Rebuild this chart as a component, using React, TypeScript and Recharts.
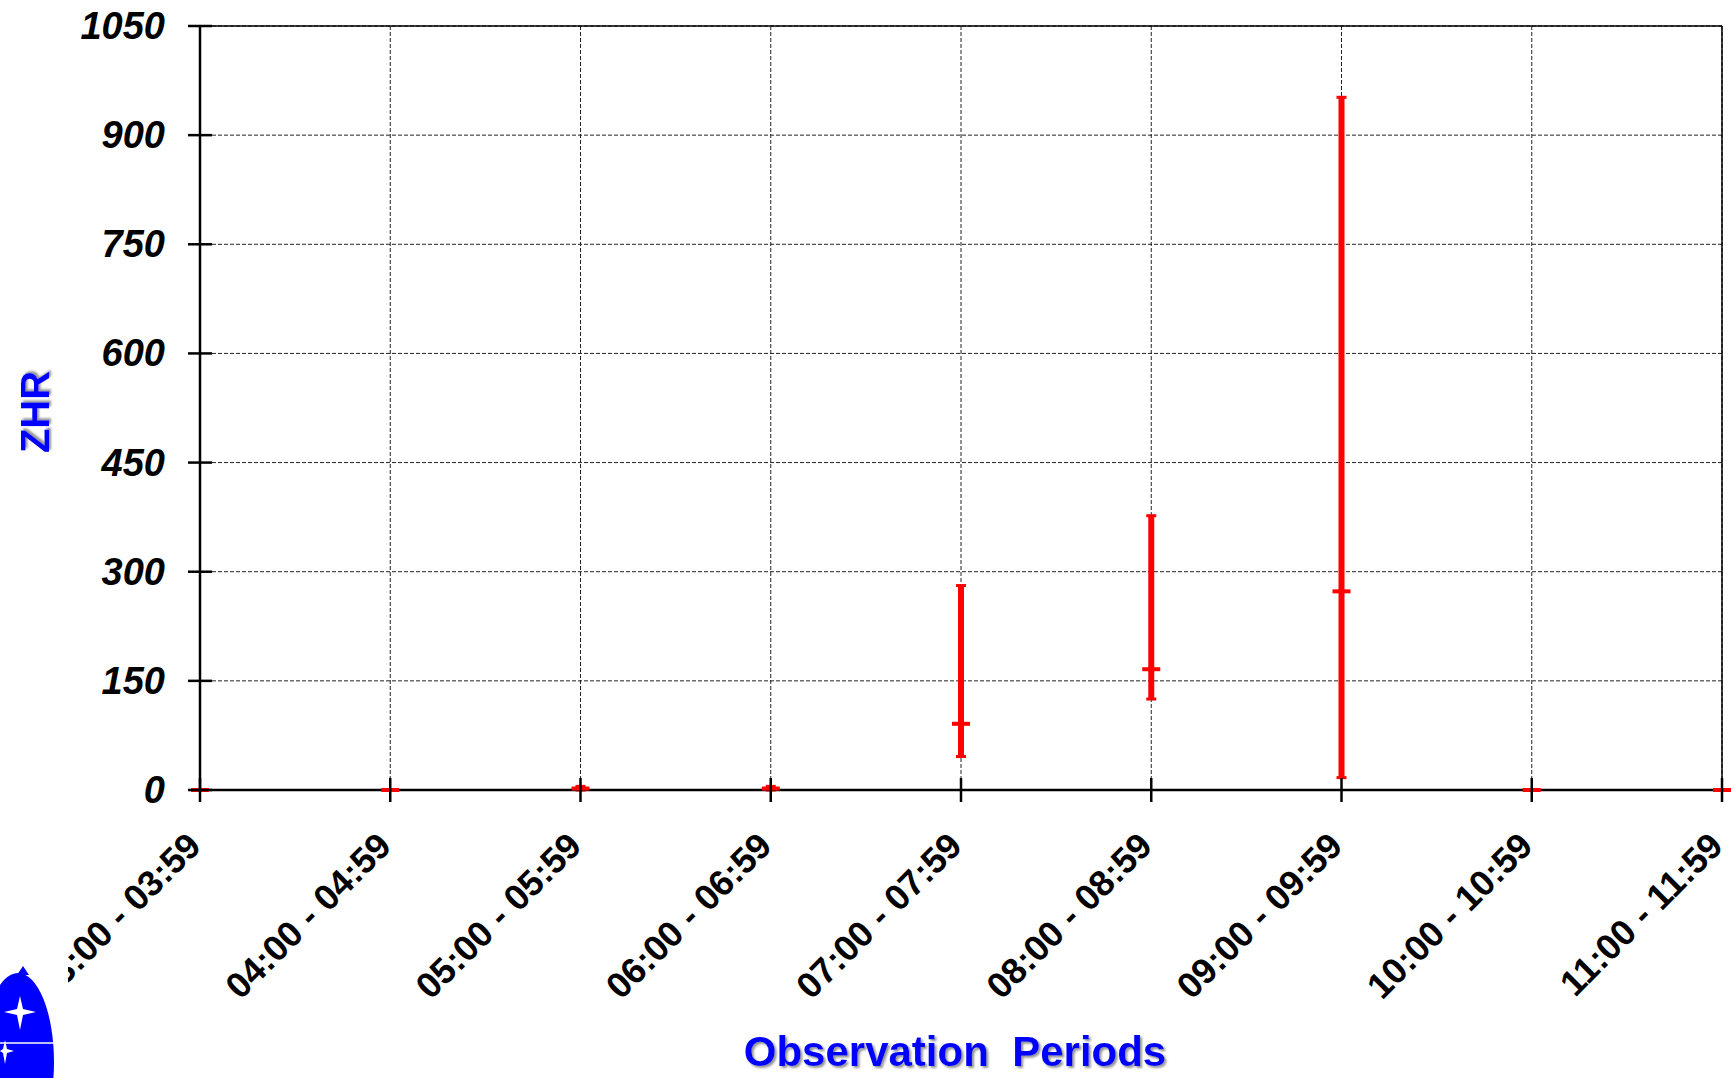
import { ComposedChart, Line, ErrorBar, XAxis, YAxis, CartesianGrid, ReferenceLine, Label } from 'recharts'

const periods = [
  '03:00 - 03:59', '04:00 - 04:59', '05:00 - 05:59', '06:00 - 06:59', '07:00 - 07:59',
  '08:00 - 08:59', '09:00 - 09:59', '10:00 - 10:59', '11:00 - 11:59',
]
const zhr = [0, 0, 2, 2, 91, 166, 273, 0, 0]
const zhrLow = [0, 0, 0, 0, 46, 125, 17, 0, 0]
const zhrHigh = [0, 0, 5, 5, 281, 377, 952, 0, 0]
const yTicks = [0, 150, 300, 450, 600, 750, 900, 1050]
const xTicks = periods.map((_, i) => i)

const data = periods.map((p, i) => ({
  idx: i,
  period: p,
  zhr: zhr[i],
  err: [zhr[i] - zhrLow[i], zhrHigh[i] - zhr[i]],
}))

const FONT = '"Liberation Sans", Arial, Helvetica, sans-serif'
const BLUE = '#0000ff'
const RED = '#ff0000'

function XTick(props: any) {
  const { x, y, payload } = props
  const bx = x + 3
  const by = y + 46
  return (
    <g>
      <line x1={x} y1={y - 24} x2={x} y2={y} stroke="#000" strokeWidth={2.5} />
      <text x={bx} y={by} transform={`rotate(-45 ${bx} ${by})`} textAnchor="end"
        fontFamily={FONT} fontWeight="bold" fontSize={36} fill="#000">
        {periods[payload.value]}
      </text>
    </g>
  )
}

function YTick(props: any) {
  const { x, y, payload } = props
  return (
    <g>
      <line x1={x + 23} y1={y} x2={x + 47} y2={y} stroke="#000" strokeWidth={2.5} />
      <text x={x} y={y} textAnchor="end" dominantBaseline="central"
        fontFamily={FONT} fontWeight="bold" fontStyle="italic" fontSize={38} fill="#000">
        {payload.value}
      </text>
    </g>
  )
}

function MeanDot(props: any) {
  const { cx, cy, index } = props
  if (cx == null || cy == null) return <g key={index} />
  return <rect key={index} x={cx - 9} y={cy - 2} width={18} height={4} fill={RED} />
}

function Logo() {
  return (
    <svg width={1731} height={1078} style={{ position: 'absolute', left: 0, top: 0, pointerEvents: 'none' }}>
      <defs>
        <filter id="ttlShadow" x="-10%" y="-30%" width="120%" height="160%">
          <feDropShadow dx={2} dy={2} stdDeviation={1.2} floodColor="#777" floodOpacity={0.8} />
        </filter>
      </defs>
      <rect x={0} y={935} width={68} height={143} fill="#fff" />
      <ellipse cx={18} cy={1062} rx={36} ry={89} fill={BLUE} />
      <path d="M17 975 L23 966 L29 975 Z" fill={BLUE} />
      <path d="M20 996 L23 1009 L36 1012 L23 1015 L20 1030 L17 1015 L4 1012 L17 1009 Z" fill="#fff" />
      <line x1={0} y1={1043} x2={54} y2={1043} stroke="#fff" strokeWidth={1.5} />
      <path d="M5 1040 L7 1049 L14 1051 L7 1053 L5 1064 L3 1053 L0 1051 L3 1049 Z" fill="#fff" />
    </svg>
  )
}

export default function App() {
  return (
    <div style={{ position: 'absolute', left: 0, top: 0, width: 1731, height: 1078, background: '#fff', overflow: 'hidden' }}>
      <ComposedChart width={1731} height={1078} data={data} margin={{ top: 26, right: 9, left: 0, bottom: 0 }}>
        <CartesianGrid stroke="#222" strokeWidth={1} strokeDasharray="4 2" />
        <XAxis dataKey="idx" type="number" domain={[0, 8]} ticks={xTicks} interval={0}
          height={288} tickSize={12} tickMargin={0} tickLine={false} tick={<XTick />}
          axisLine={{ stroke: '#000', strokeWidth: 2.5 }}>
          <Label content={(p: any) => {
            const vb = p.viewBox
            const cx = vb.x + vb.width / 2 - 6
            const cy = vb.y + vb.height - 12
            return (
              <text x={cx} y={cy} textAnchor="middle" fontFamily={FONT} fontWeight="bold"
                fontSize={42} fill={BLUE} filter="url(#ttlShadow)">
                Observation&#160;&#160;Periods
              </text>
            )
          }} />
        </XAxis>
        <YAxis type="number" domain={[0, 1050]} ticks={yTicks} interval={0} width={200}
          tickSize={12} tickMargin={23} tickLine={false} tick={<YTick />}
          axisLine={{ stroke: '#000', strokeWidth: 2.5 }}>
          <Label content={(p: any) => {
            const vb = p.viewBox
            const cx = vb.x + 35
            const cy = vb.y + vb.height / 2 + 4
            return (
              <text x={cx} y={cy} transform={`rotate(-90 ${cx} ${cy})`} textAnchor="middle"
                dominantBaseline="central" fontFamily={FONT} fontWeight="bold" fontSize={40}
                fill={BLUE} filter="url(#ttlShadow)">
                ZHR
              </text>
            )
          }} />
        </YAxis>
        <ReferenceLine y={1050} stroke="#000" strokeWidth={1.5} />
        <ReferenceLine x={8} stroke="#000" strokeWidth={1.5} />
        <Line dataKey="zhr" stroke="none" isAnimationActive={false} dot={(p: any) => <MeanDot {...p} />} activeDot={false}>
          <ErrorBar dataKey="err" direction="y" width={0} stroke={RED} strokeWidth={6} isAnimationActive={false} />
          <ErrorBar dataKey="err" direction="y" width={5} stroke={RED} strokeWidth={3} isAnimationActive={false} />
        </Line>
      </ComposedChart>
      <Logo />
    </div>
  )
}
